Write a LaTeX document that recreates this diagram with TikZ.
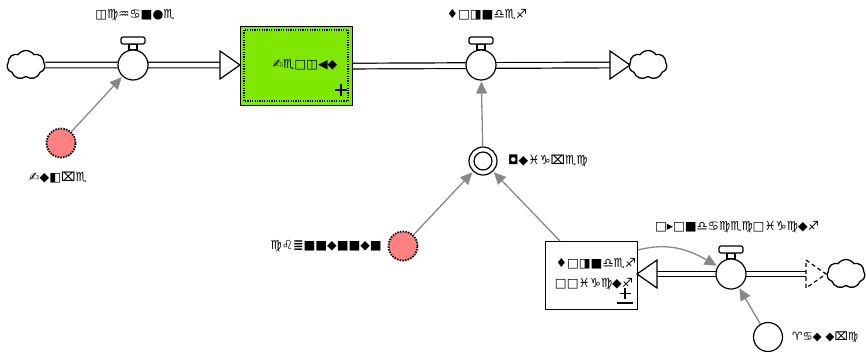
\documentclass[tikz,border=0pt]{standalone}
\usepackage{fontspec}
\setmainfont{DejaVu Sans}
\usetikzlibrary{shapes.symbols,arrows.meta}
\definecolor{stockgreen}{RGB}{128,232,0}
\definecolor{auxpink}{RGB}{255,128,128}
\definecolor{linkgray}{RGB}{136,136,136}
\tikzset{
  lbl/.style={font=\fontsize{12.5}{14}\selectfont\bfseries, inner sep=0pt},
  pipe/.style={line width=1.2pt, double=white, double distance=4.5pt},
  valvec/.style={circle, draw, line width=1.2pt, fill=white, minimum size=30pt, inner sep=0pt},
  cloudn/.style={cloud, cloud puffs=7, cloud puff arc=110, aspect=1.25, draw, line width=1.3pt, fill=white, minimum width=38pt, minimum height=29pt, inner sep=0pt},
  auxn/.style={circle, draw, dash pattern=on 1.5pt off 1.2pt, line width=1.8pt, fill=auxpink, minimum size=29pt, inner sep=0pt},
  link/.style={draw=linkgray, line width=1.3pt, -{Triangle[length=12pt,width=11pt]}, shorten >=1pt},
  headtri/.style={draw, line width=1.2pt, fill=white},
}
\newcommand{\valvetop}[2]{%
  \draw[line width=1.2pt, fill=white] (#1-4,#2-21) rectangle (#1+4,#2-15);
  \draw[line width=1.2pt, fill=white, rounded corners=2pt] (#1-12,#2-28) rectangle (#1+12,#2-21);
}
\begin{document}
\begin{tikzpicture}[x=1pt,y=-1pt]
\useasboundingbox (0,0) rectangle (866,351);
% ---------- top flow ----------
\node[cloudn] (c1) at (26,65) {};
\node[cloudn] (c2) at (648,65) {};
\node[draw, line width=1.2pt, fill=stockgreen, minimum width=112pt, minimum height=79pt, inner sep=0pt, anchor=north west] (s1) at (240,26) {};
\draw[dash pattern=on 1.2pt off 1.2pt, line width=1.2pt] (244,30) rectangle (348,101);
\node[lbl] (s1l) at (305,65) {✍♏□◫◀◆};
\draw[line width=1.1pt] (341,84) -- (341,96) (335,90) -- (347,90);
\coordinate (h1) at (220,65);
\coordinate (h2) at (610,65);
\draw[pipe] (c1.east) -- (h1);
\draw[pipe] (s1.east) -- (h2);
\draw[headtri] (220,51) -- (240,65) -- (220,79) -- cycle;
\draw[headtri] (610,51) -- (630,65) -- (610,79) -- cycle;
\valvetop{133}{65}
\valvetop{481}{65}
\node[valvec] (v1) at (133,65) {};
\node[valvec] (v2) at (481,65) {};
\node[lbl] (v1l) at (135,15) {◫♍♒♋■●♏};
\node[lbl] (v2l) at (487,15) {♦□◨■♎♏♐};
% ---------- auxiliaries ----------
\node[auxn] (p1) at (61,143) {};
\node[lbl] (p1l) at (58,178) {✍◆◧⌧♏};
\node[circle, draw, line width=1.2pt, fill=white, minimum size=28pt, inner sep=0pt] (cv) at (483,161) {};
\draw[line width=1.2pt] (cv) circle (9pt);
\node[lbl, anchor=west] (cvl) at (508,161) {◘◆♓♑⌧♏♍};
\node[auxn] (p2) at (403,246) {};
\node[lbl, anchor=east] (p2l) at (382,246) {♍♌≣■■◆■■◆■};
% ---------- bottom flow ----------
\node[draw, line width=1.2pt, fill=white, minimum width=92pt, minimum height=68pt, inner sep=0pt, anchor=north west] (s2) at (545,241) {};
\node[lbl] (s2a) at (596,264) {♦□◨■♎♏♐};
\node[lbl] (s2b) at (594,284) {□□♓♑♍◆♐};
\draw[line width=1.1pt] (625,288) -- (625,299) (619.5,293.5) -- (630.5,293.5) (617,303) -- (633,303);
\node[cloudn] (c3) at (846,274) {};
\coordinate (h3) at (657,274);
\coordinate (h4) at (806,274);
\valvetop{731}{274}
\draw[pipe] (h3) -- (h4);
\draw[headtri] (657,260) -- (637,274) -- (657,288) -- cycle;
\draw[line width=1.2pt, dash pattern=on 4pt off 3pt] (806,260) -- (826,274) -- (806,288) -- cycle;
\node[valvec] (v3) at (731,274) {};
\node[lbl] (v3l) at (737,227) {□▸□■♎♋♍♏♍□♓♑♍◆♐};
\node[circle, draw, line width=1.2pt, fill=white, minimum size=29pt, inner sep=0pt] (e1) at (768,337) {};
\node[lbl, anchor=west, font=\fontsize{11.5}{13}\selectfont\bfseries] (e1l) at (792,337) {♈♋◆ ◆⌧♍};
% ---------- links ----------
\draw[link] (p1) -- (v1);
\draw[link] (cv) -- (v2);
\draw[link] (p2) -- (cv);
\draw[link] (560,241) -- (cv);
\coordinate (s2r) at (638,250);
\draw[link] (s2r) to[out=15,in=150] (v3);
\draw[link] (e1) -- (v3);
\end{tikzpicture}
\end{document}
